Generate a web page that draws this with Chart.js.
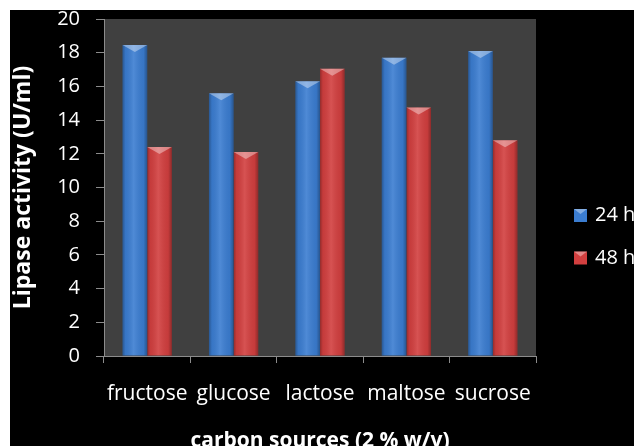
<!DOCTYPE html>
<html>
<head>
<meta charset="utf-8">
<script src="https://cdn.jsdelivr.net/npm/chart.js@4/dist/chart.umd.min.js"></script>
<style>
  html, body { margin: 0; padding: 0; background: #ffffff; overflow: hidden; width: 634px; height: 446px; }
  #wrap { position: absolute; left: 10px; top: 10px; width: 640px; height: 444px; }
  canvas { display: block; }
</style>
</head>
<body>
<div id="wrap"><canvas id="c" width="640" height="444"></canvas></div>
<script>
// Lipase activity by carbon source, measured at 24 h and 48 h
const categories = ['fructose', 'glucose', 'lactose', 'maltose', 'sucrose'];
const activity24h = [18.45, 15.6, 16.3, 17.7, 18.1];
const activity48h = [12.4, 12.1, 17.05, 14.75, 12.8];
const seriesLabels = ['24 h', '48 h'];
const yTicks = [0, 2, 4, 6, 8, 10, 12, 14, 16, 18, 20];

const BLUE = '#3b7dd1';
const RED = '#d23f3f';
const FONT = '"Open Sans", "DejaVu Sans", sans-serif';

// Black page background and dark grey plot area
const backdrop = {
  id: 'backdrop',
  beforeDraw(chart) {
    const { ctx, chartArea: a } = chart;
    ctx.save();
    ctx.fillStyle = '#000000';
    ctx.fillRect(0, 0, chart.width, chart.height);
    ctx.fillStyle = '#404040';
    ctx.fillRect(a.left, a.top, a.right - a.left, a.bottom - a.top);
    ctx.restore();
  }
};

// Cylinder-like shading and bevelled tops on each bar
const barShade = {
  id: 'barShade',
  afterDatasetsDraw(chart) {
    const ctx = chart.ctx;
    chart.data.datasets.forEach((ds, di) => {
      const meta = chart.getDatasetMeta(di);
      meta.data.forEach(el => {
        const { x, y, base, width } = el.getProps(['x', 'y', 'base', 'width'], true);
        const l = x - width / 2, r = x + width / 2;
        ctx.save();
        const g = ctx.createLinearGradient(l, 0, r, 0);
        g.addColorStop(0, 'rgba(0,0,0,0.30)');
        g.addColorStop(0.12, 'rgba(0,0,0,0.06)');
        g.addColorStop(0.45, 'rgba(255,255,255,0.10)');
        g.addColorStop(0.85, 'rgba(0,0,0,0.06)');
        g.addColorStop(1, 'rgba(0,0,0,0.32)');
        ctx.fillStyle = g;
        ctx.fillRect(l, y, width, base - y);
        ctx.beginPath();
        ctx.moveTo(l, y);
        ctx.lineTo(r, y);
        ctx.lineTo(x, y + 7);
        ctx.closePath();
        ctx.fillStyle = 'rgba(255,255,255,0.38)';
        ctx.fill();
        ctx.restore();
      });
    });
  }
};

// Series key at the right of the plot
const seriesKey = {
  id: 'seriesKey',
  afterDraw(chart) {
    const ctx = chart.ctx;
    const x0 = chart.chartArea.right + 38;
    const yStart = 205.5, gap = 42.5, box = 13;
    ctx.save();
    ctx.font = '20px ' + FONT;
    ctx.textBaseline = 'middle';
    ctx.textAlign = 'left';
    chart.data.datasets.forEach((ds, i) => {
      const cy = yStart + i * gap;
      ctx.fillStyle = ds.backgroundColor;
      ctx.fillRect(x0, cy - box / 2, box, box);
      ctx.beginPath();
      ctx.moveTo(x0, cy - box / 2);
      ctx.lineTo(x0 + box, cy - box / 2);
      ctx.lineTo(x0 + box / 2, cy - box / 2 + 5);
      ctx.closePath();
      ctx.fillStyle = 'rgba(255,255,255,0.38)';
      ctx.fill();
      ctx.fillStyle = '#ffffff';
      ctx.fillText(ds.label, x0 + box + 8, cy);
    });
    ctx.restore();
  }
};

new Chart(document.getElementById('c'), {
  type: 'bar',
  data: {
    labels: categories,
    datasets: [
      { label: seriesLabels[0], data: activity24h, backgroundColor: BLUE, borderWidth: 0 },
      { label: seriesLabels[1], data: activity48h, backgroundColor: RED, borderWidth: 0 }
    ]
  },
  options: {
    responsive: false,
    animation: false,
    devicePixelRatio: 1,
    layout: { padding: { top: 9, left: 0, right: 114, bottom: 0 } },
    datasets: { bar: { categoryPercentage: 0.57, barPercentage: 1.0 } },
    plugins: { legend: { display: false }, tooltip: { enabled: false } },
    scales: {
      x: {
        offset: true,
        grid: { offset: true, drawOnChartArea: false, drawTicks: true, tickLength: 7, color: '#8c8c8c' },
        border: { display: true, color: '#8c8c8c', width: 1 },
        ticks: { color: '#ffffff', font: { family: FONT, size: 21 }, padding: 18, maxRotation: 0, autoSkip: false },
        title: { display: true, text: 'carbon sources (2 % w/v)', color: '#ffffff', font: { family: FONT, size: 21, weight: 'bold' }, padding: { top: 4, bottom: 0 } },
        afterFit(s) { s.height = 98; s.paddingLeft = 0; s.paddingRight = 0; }
      },
      y: {
        min: 0,
        max: 20,
        afterBuildTicks(s) { s.ticks = yTicks.map(v => ({ value: v })); },
        grid: { drawOnChartArea: false, drawTicks: true, tickLength: 8, color: '#8c8c8c' },
        border: { display: true, color: '#8c8c8c', width: 1 },
        ticks: { color: '#ffffff', font: { family: FONT, size: 20 }, padding: 16 },
        title: { display: true, text: 'Lipase activity (U/ml)', color: '#ffffff', font: { family: FONT, size: 23, weight: 'bold' }, padding: { top: 0, bottom: 0 } },
        afterFit(s) { s.width = 94; s.paddingTop = 0; s.paddingBottom = 0; }
      }
    }
  },
  plugins: [backdrop, barShade, seriesKey]
});
</script>
</body>
</html>
